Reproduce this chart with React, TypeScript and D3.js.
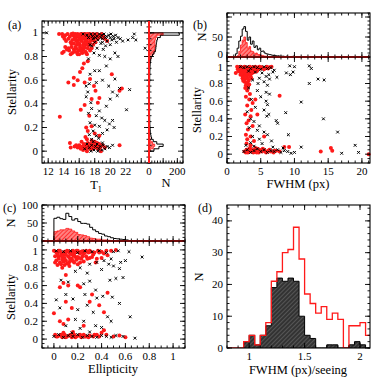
import * as d3 from "d3";

const FONT = "'Liberation Serif', 'DejaVu Serif', serif";
const RED = "#ff1a1a";

// ---------- panel (a): T1 vs stellarity ----------
const aRed: [number, number][] = [
  [13.4, 0.99], [13.8, 0.99], [14.2, 0.98], [14.5, 0.99], [14.8, 0.97], [15.0, 0.99], [15.2, 0.98], [15.4, 0.96], [15.5, 0.99], [15.7, 0.97],
  [15.8, 0.99], [16.0, 0.98], [16.1, 0.96], [16.2, 0.99], [16.4, 0.97], [16.5, 0.99], [16.6, 0.95], [16.7, 0.98], [16.8, 0.99], [16.9, 0.96],
  [17.0, 0.98], [17.1, 0.99], [17.2, 0.97], [17.3, 0.95], [17.4, 0.99], [17.5, 0.97], [17.6, 0.98], [17.7, 0.96], [17.8, 0.99], [17.9, 0.97],
  [18.0, 0.98], [18.2, 0.96], [18.3, 0.99], [18.5, 0.97], [18.7, 0.98], [19.0, 0.96], [19.3, 0.95], [19.6, 0.93],
  [15.1, 0.94], [15.6, 0.93], [15.9, 0.94], [16.3, 0.93], [16.8, 0.93], [17.1, 0.92], [17.5, 0.93], [14.9, 0.92], [15.3, 0.91], [15.7, 0.9],
  [16.0, 0.91], [16.5, 0.9], [16.9, 0.9], [17.3, 0.91], [17.8, 0.9], [18.1, 0.92], [14.2, 0.88], [14.6, 0.87], [15.0, 0.88], [15.3, 0.86],
  [15.6, 0.87], [15.9, 0.85], [16.2, 0.87], [16.5, 0.86], [16.8, 0.84], [17.1, 0.87], [17.4, 0.85], [14.0, 0.84], [15.1, 0.83], [15.8, 0.82],
  [16.4, 0.83], [17.0, 0.82], [13.8, 0.83], [14.7, 0.85], [16.1, 0.89], [16.6, 0.88],
  [15.2, 0.995], [15.9, 0.975], [16.3, 0.985], [16.7, 0.965], [17.2, 0.985], [17.7, 0.975], [18.1, 0.985], [16.0, 0.945], [16.4, 0.955], [17.0, 0.945],
  [17.6, 0.94], [15.5, 0.945], [14.6, 0.95], [14.3, 0.93], [15.0, 0.905], [15.5, 0.88], [16.1, 0.875], [16.7, 0.875], [17.2, 0.895], [17.6, 0.87],
  [16.3, 0.845], [15.4, 0.84], [14.9, 0.82], [16.9, 0.83], [15.7, 0.835], [16.0, 0.82], [14.4, 0.86], [16.6, 0.915], [15.8, 0.915], [17.9, 0.935],
  [18.4, 0.95], [13.9, 0.97], [14.1, 0.95], [18.9, 0.99], [19.1, 0.975],
  [17.1, 0.76], [16.6, 0.74], [16.1, 0.67], [15.3, 0.62], [14.6, 0.58], [15.3, 0.56], [16.7, 0.58], [17.4, 0.61], [18.1, 0.51], [17.6, 0.44],
  [18.6, 0.45], [18.4, 0.41], [21.5, 0.53], [21.2, 0.51], [20.2, 0.65], [16.7, 0.39], [13.5, 0.29], [16.9, 0.2], [17.1, 0.17], [17.6, 0.21],
  [18.6, 0.13], [16.4, 0.7], [15.8, 0.6], [17.9, 0.55], [16.2, 0.35], [17.3, 0.3], [16.8, 0.12], [18.0, 0.15],
  [14.8, 0.07], [14.9, 0.03], [15.4, 0.04], [15.8, 0.03], [16.0, 0.05], [16.2, 0.02], [16.4, 0.04], [16.6, 0.06], [16.7, 0.03], [16.9, 0.02],
  [17.0, 0.05], [17.1, 0.07], [17.2, 0.03], [17.3, 0.04], [17.4, 0.02], [17.5, 0.06], [17.6, 0.03], [17.7, 0.05], [17.8, 0.02], [17.9, 0.04],
  [18.0, 0.08], [18.1, 0.03], [18.2, 0.05], [18.4, 0.02], [18.5, 0.04], [18.7, 0.03], [19.0, 0.05], [19.3, 0.03], [21.2, 0.05], [16.3, 0.08],
  [17.0, 0.1], [17.6, 0.09], [18.3, 0.07], [18.8, 0.0], [16.5, 0.01], [17.0, 0.0], [17.45, 0.04], [17.85, 0.06], [16.8, 0.05], [17.3, 0.06],
  [18.6, 0.06], [15.6, 0.05], [16.1, 0.03],
];
const aBlack: [number, number][] = [
  [11.8, 1.0], [16.5, 0.99], [17.0, 0.98], [17.5, 0.99], [18.0, 0.99], [18.3, 0.97], [18.6, 0.99], [18.9, 0.98], [19.2, 0.99], [19.5, 0.97],
  [19.8, 0.98], [20.1, 0.99], [20.4, 0.97], [20.7, 0.98], [21.0, 0.96], [17.8, 0.95], [18.4, 0.94], [19.0, 0.95], [19.6, 0.93], [20.2, 0.94],
  [20.8, 0.92], [21.3, 0.95], [22.3, 0.94], [22.9, 0.96], [23.1, 0.99], [23.3, 0.94], [24.5, 0.87], [21.6, 0.93], [18.8, 0.91], [19.4, 0.89],
  [20.0, 0.9], [17.6, 0.89], [18.3, 0.87], [19.1, 0.86], [20.6, 0.83], [21.0, 0.8], [17.9, 0.83], [18.6, 0.81], [19.3, 0.8], [20.0, 0.78],
  [17.2, 0.96], [17.7, 0.97], [18.1, 0.96], [18.8, 0.96], [19.4, 0.96], [20.0, 0.96], [20.5, 0.95], [19.0, 0.92], [18.0, 0.92], [17.4, 0.9],
  [17.2, 0.78], [19.5, 0.72], [18.6, 0.68], [18.0, 0.68], [17.4, 0.65], [20.6, 0.61], [21.2, 0.53], [22.5, 0.52], [20.3, 0.5], [20.9, 0.47],
  [20.0, 0.44], [22.1, 0.35], [19.5, 0.38], [18.6, 0.34], [18.2, 0.3], [19.3, 0.26], [20.3, 0.26], [19.9, 0.23], [18.6, 0.21], [17.8, 0.17],
  [18.2, 0.13], [17.6, 0.1], [17.3, 0.57], [16.9, 0.55], [17.1, 0.5], [19.0, 0.6], [18.2, 0.58], [19.8, 0.55], [17.6, 0.36], [17.2, 0.32],
  [18.9, 0.28], [19.6, 0.18], [20.5, 0.2], [17.4, 0.24], [18.0, 0.22], [19.0, 0.15], [17.3, 0.14], [18.5, 0.11], [16.9, 0.46], [17.5, 0.41],
  [17.0, 0.06], [17.3, 0.03], [17.6, 0.05], [17.9, 0.01], [18.1, 0.04], [18.3, 0.06], [18.5, 0.02], [18.7, 0.04], [18.9, 0.01], [19.1, 0.05],
  [19.3, 0.02], [19.6, 0.04], [19.9, 0.03], [20.3, 0.05], [17.8, 0.08], [18.4, 0.0], [17.5, 0.0], [19.0, 0.07], [16.7, 0.02],
];
// side histogram of (a): stellarity bins of width 0.02 starting at 0
const aHistAll = [
  35, 70, 100, 55, 30, 18, 14, 10, 9, 8, 7, 6, 6, 5, 5, 4, 4, 5, 4, 4, 4, 3, 4, 4, 3,
  4, 4, 5, 4, 5, 5, 5, 6, 6, 7, 7, 8, 10, 12, 15, 25, 35, 45, 48, 50, 52, 55, 60, 80, 214,
];
const aHistRed = [
  10, 30, 40, 25, 12, 6, 4, 3, 3, 2, 2, 2, 1, 2, 1, 1, 2, 1, 1, 2, 1, 1, 1, 2, 1,
  1, 2, 1, 2, 1, 2, 2, 2, 2, 2, 3, 3, 5, 8, 15, 25, 35, 42, 40, 45, 42, 42, 45, 55, 100,
];

// ---------- panel (b): FWHM vs stellarity ----------
const bRed: [number, number][] = [
  [1.5, 0.99], [1.8, 0.97], [2.0, 0.99], [2.2, 0.96], [2.4, 0.98], [2.6, 0.99], [2.8, 0.97], [3.0, 0.98], [3.2, 0.96], [3.4, 0.99],
  [3.6, 0.97], [3.8, 0.98], [4.0, 0.96], [4.2, 0.99], [4.4, 0.97], [4.6, 0.98], [4.8, 0.99], [5.0, 0.97], [5.2, 0.98], [5.5, 0.96],
  [5.8, 0.98], [6.1, 0.97], [1.7, 0.94], [2.0, 0.93], [2.3, 0.94], [2.6, 0.92], [2.9, 0.94], [3.2, 0.93], [3.5, 0.92], [3.8, 0.94],
  [4.1, 0.93], [2.0, 0.9], [2.3, 0.89], [2.6, 0.91], [2.9, 0.88], [3.2, 0.9], [3.5, 0.88], [2.3, 0.86], [2.6, 0.85], [2.9, 0.87],
  [3.2, 0.84], [2.6, 0.82], [2.9, 0.8], [3.2, 0.83], [2.8, 0.78], [3.1, 0.76], [1.3, 0.92], [3.6, 0.86], [1.6, 0.96], [4.5, 0.95],
  [1.9, 0.985], [2.1, 0.975], [2.5, 0.965], [2.7, 0.985], [3.1, 0.975], [3.3, 0.985], [3.7, 0.965], [3.9, 0.985], [4.3, 0.965], [4.7, 0.97],
  [5.1, 0.985], [5.4, 0.975], [5.9, 0.99], [6.3, 0.985], [6.6, 0.99], [2.1, 0.945], [2.5, 0.935], [2.8, 0.95], [3.0, 0.92], [3.4, 0.945],
  [3.7, 0.915], [4.4, 0.94], [2.2, 0.91], [2.5, 0.875], [2.8, 0.9], [3.0, 0.86], [3.4, 0.9], [2.4, 0.83], [2.7, 0.87], [3.0, 0.81],
  [2.7, 0.75], [3.3, 0.79],
  [3.0, 0.72], [3.4, 0.68], [2.8, 0.65], [3.3, 0.62], [3.8, 0.58], [4.2, 0.62], [3.0, 0.55], [3.6, 0.5], [2.7, 0.45], [3.5, 0.43],
  [3.2, 0.38], [4.5, 0.45], [2.9, 0.35], [3.8, 0.32], [3.1, 0.28], [2.8, 0.22], [3.5, 0.2], [3.0, 0.17], [4.0, 0.15], [2.9, 0.12],
  [3.5, 0.1], [5.5, 0.2], [8.5, 0.08], [7.8, 0.66],
  [2.6, 0.03], [2.9, 0.05], [3.1, 0.02], [3.3, 0.06], [3.5, 0.03], [3.7, 0.04], [3.9, 0.02], [4.1, 0.05], [4.3, 0.03], [4.5, 0.06],
  [4.7, 0.02], [4.9, 0.04], [5.2, 0.03], [5.5, 0.05], [5.8, 0.02], [6.1, 0.04], [6.5, 0.03], [6.9, 0.02], [7.3, 0.04], [7.8, 0.03],
  [2.8, 0.02], [3.2, 0.04], [3.6, 0.05], [4.0, 0.03], [4.4, 0.02], [4.8, 0.05], [5.3, 0.06], [5.7, 0.03], [6.3, 0.05], [7.0, 0.04],
  [3.4, 0.07], [4.2, 0.07], [9.2, 0.08], [13.9, 0.03], [15.4, 0.07], [15.6, 0.04], [21.0, 0.0],
];
const bBlack: [number, number][] = [
  [2.0, 0.99], [2.5, 0.98], [3.0, 0.99], [3.5, 0.97], [4.0, 0.99], [4.5, 0.98], [5.0, 0.96], [5.5, 0.99], [6.0, 0.97], [6.5, 0.98],
  [7.0, 0.95], [3.2, 0.94], [4.2, 0.93], [5.2, 0.92], [6.2, 0.9], [6.8, 0.93], [5.8, 0.88], [4.8, 0.86], [6.3, 0.85], [7.4, 0.87],
  [5.5, 0.82], [4.6, 0.8], [6.0, 0.78], [3.8, 0.84], [9.3, 1.0], [10.0, 0.99], [9.8, 0.93], [9.4, 0.9], [8.8, 0.92], [12.2, 1.0],
  [12.5, 0.97], [13.5, 0.85], [14.4, 0.84], [12.2, 0.8],
  [3.2, 0.75], [4.5, 0.72], [5.8, 0.7], [6.3, 0.68], [5.0, 0.65], [3.6, 0.62], [5.8, 0.6], [6.0, 0.56], [4.2, 0.53], [3.0, 0.48],
  [5.5, 0.5], [6.2, 0.45], [5.9, 0.43], [3.5, 0.4], [4.0, 0.37], [7.3, 0.38], [7.5, 0.35], [8.7, 0.47], [11.0, 0.59], [14.3, 0.4],
  [4.8, 0.32], [3.3, 0.3], [4.5, 0.27], [5.5, 0.25], [6.0, 0.22], [3.8, 0.2], [4.8, 0.17], [3.5, 0.13], [5.2, 0.12], [6.6, 0.15],
  [9.1, 0.22], [16.4, 0.25], [2.8, 0.1], [4.0, 0.09],
  [2.5, 0.03], [3.0, 0.05], [3.5, 0.02], [4.0, 0.04], [4.5, 0.06], [5.0, 0.03], [5.5, 0.05], [6.0, 0.02], [6.5, 0.04], [7.0, 0.03],
  [7.5, 0.05], [8.0, 0.02], [8.5, 0.04], [9.0, 0.03], [9.5, 0.01], [10.0, 0.02], [11.0, 0.08], [17.0, 0.01], [19.0, 0.1], [19.5, 0.02],
  [8.3, 0.07], [6.8, 0.08],
];
// top histogram of (b): FWHM bins of width 0.25 starting at 1.0
const bHistAll = [
  0, 8, 22, 40, 52, 70, 76, 64, 42, 50, 32, 40, 24, 28, 18, 22, 14, 15, 10, 8,
  7, 6, 5, 4, 4, 3, 3, 2, 2, 2, 1, 2, 1, 1, 1, 2, 1, 0, 1, 0, 1, 0,
];
const bHistRed = [
  0, 0, 3, 14, 30, 42, 50, 36, 22, 26, 15, 13, 8, 10, 6, 6, 4, 3, 2, 2,
  1, 1, 1, 1, 1, 0,
];

// ---------- panel (c): ellipticity vs stellarity ----------
const cRed: [number, number][] = [
  [0.0, 0.99], [0.03, 0.97], [0.05, 0.99], [0.07, 0.96], [0.09, 0.98], [0.11, 0.99], [0.13, 0.97], [0.15, 0.98], [0.17, 0.96], [0.19, 0.99],
  [0.21, 0.97], [0.23, 0.98], [0.25, 0.96], [0.27, 0.99], [0.29, 0.97], [0.31, 0.98], [0.34, 0.97], [0.37, 0.99], [0.4, 0.98], [0.44, 0.99],
  [0.48, 0.99], [0.52, 1.0], [0.01, 0.93], [0.04, 0.92], [0.06, 0.94], [0.09, 0.91], [0.12, 0.93], [0.15, 0.9], [0.18, 0.92], [0.21, 0.91],
  [0.24, 0.93], [0.28, 0.9], [0.32, 0.92], [0.36, 0.9], [0.4, 0.91], [0.02, 0.88], [0.05, 0.86], [0.08, 0.87], [0.11, 0.85], [0.14, 0.88],
  [0.17, 0.86], [0.2, 0.84], [0.25, 0.87], [0.03, 0.83], [0.07, 0.8], [0.13, 0.82], [0.35, 0.86], [0.45, 0.94], [0.08, 0.95], [0.16, 0.94],
  [0.02, 0.975], [0.04, 0.99], [0.06, 0.965], [0.1, 0.975], [0.12, 0.985], [0.14, 0.955], [0.16, 0.99], [0.18, 0.975], [0.2, 0.99], [0.22, 0.96],
  [0.24, 0.985], [0.26, 0.97], [0.3, 0.99], [0.33, 0.95], [0.38, 0.97], [0.42, 0.96], [0.03, 0.945], [0.07, 0.925], [0.1, 0.945], [0.13, 0.91],
  [0.17, 0.935], [0.2, 0.92], [0.23, 0.9], [0.27, 0.93], [0.3, 0.91], [0.04, 0.9], [0.07, 0.89], [0.1, 0.88], [0.13, 0.865], [0.16, 0.875],
  [0.19, 0.89], [0.22, 0.86], [0.06, 0.84], [0.09, 0.83], [0.12, 0.845], [0.01, 0.86],
  [0.1, 0.72], [0.08, 0.63], [0.12, 0.6], [0.05, 0.58], [0.2, 0.6], [0.22, 0.58], [0.32, 0.5], [0.45, 0.52], [0.0, 0.29], [0.05, 0.2],
  [0.08, 0.17], [0.12, 0.22], [0.3, 0.42], [0.15, 0.35], [0.1, 0.42], [0.38, 0.38], [0.25, 0.15], [0.42, 0.3],
  [0.01, 0.05], [0.03, 0.03], [0.05, 0.04], [0.07, 0.02], [0.09, 0.05], [0.11, 0.03], [0.13, 0.04], [0.15, 0.02], [0.17, 0.05], [0.19, 0.03],
  [0.21, 0.04], [0.23, 0.02], [0.25, 0.05], [0.27, 0.03], [0.3, 0.04], [0.33, 0.03], [0.36, 0.05], [0.4, 0.07], [0.44, 0.05], [0.5, 0.03],
  [0.55, 0.04], [0.6, 0.02], [0.42, 0.1], [0.02, 0.03], [0.06, 0.05], [0.1, 0.02], [0.14, 0.05], [0.18, 0.02], [0.22, 0.05], [0.26, 0.03],
  [0.29, 0.02], [0.34, 0.05], [0.38, 0.03], [0.08, 0.07], [0.16, 0.08],
];
const cBlack: [number, number][] = [
  [0.02, 0.99], [0.08, 0.98], [0.14, 0.99], [0.2, 0.97], [0.26, 0.99], [0.32, 0.98], [0.38, 0.99], [0.44, 0.97], [0.5, 0.98], [0.54, 0.99],
  [0.63, 0.98], [0.74, 0.92], [0.6, 0.88], [0.56, 0.86], [0.48, 0.9], [0.42, 0.88], [0.36, 0.86], [0.3, 0.84], [0.46, 0.84], [0.5, 0.82],
  [0.55, 0.79], [0.22, 0.8], [0.18, 0.76], [0.28, 0.74], [0.4, 0.78], [0.47, 0.66], [0.52, 0.68], [0.58, 0.69], [0.06, 0.66], [0.12, 0.64],
  [0.25, 0.62], [0.3, 0.65], [0.35, 0.55], [0.26, 0.5], [0.36, 0.46], [0.41, 0.48], [0.49, 0.47], [0.55, 0.4], [0.28, 0.38], [0.02, 0.44],
  [0.1, 0.5], [0.16, 0.45], [0.05, 0.35], [0.2, 0.33], [0.33, 0.3], [0.45, 0.25], [0.48, 0.2], [0.64, 0.25], [0.18, 0.22], [0.25, 0.2],
  [0.1, 0.15], [0.22, 0.12], [0.35, 0.15], [0.4, 0.13],
  [0.0, 0.03], [0.04, 0.05], [0.08, 0.02], [0.12, 0.04], [0.16, 0.03], [0.2, 0.05], [0.24, 0.02], [0.28, 0.04], [0.32, 0.03], [0.36, 0.02],
  [0.4, 0.04], [0.44, 0.03], [0.48, 0.02], [0.52, 0.04], [0.58, 0.03], [0.68, 0.01], [0.3, 0.08], [0.15, 0.07],
];
// top histogram of (c): ellipticity bins of width 0.025 starting at 0
const cHistAll = [
  63, 66, 62, 60, 77, 68, 58, 62, 54, 49, 49, 47, 38, 31, 26, 21, 19, 14, 12, 9,
  7, 6, 5, 4, 3, 1, 1,
];
const cHistRed = [
  26, 28, 31, 31, 35, 33, 28, 24, 18, 17, 15, 12, 8, 7, 5, 5, 3, 3, 2, 1, 1, 1,
];

// ---------- panel (d): FWHM/seeing, bins of width 0.05 starting at 0.95 ----------
const dBlack = [2, 4, 1, 4, 7, 19, 22, 21, 22, 21, 10, 4, 3, 0, 0, 1, 1, 0, 0, 1, 2, 1, 0];
const dRed = [2, 4, 1, 4, 8, 21, 24, 30, 31, 38, 28, 17, 14, 11, 13, 9, 11, 9, 0, 7, 7, 8, 4];

// ---------- ticks ----------
const stelTicks = [0, 0.2, 0.4, 0.6, 0.8, 1];
const t1Ticks = [12, 14, 16, 18, 20, 22, 24];
const t1Labels = ["12", "14", "16", "18", "20", "22", ""];
const nSideTicks = [0, 100, 200];
const nSideLabels = ["0", "", "200"];
const fwhmTicks = [0, 5, 10, 15, 20];
const bNTicks = [0, 50, 100];
const bNLabels = ["0", "50", ""];
const cNTicks = [0, 50, 100];
const ellTicks = [0, 0.2, 0.4, 0.6, 0.8, 1];
const ratioTicks = [1, 1.5, 2];
const dNTicks = [0, 10, 20, 30, 40];

type Sc = d3.ScaleLinear<number, number>;
const TICK_FS = 11;

function fmt(v: number) {
  return String(+v.toFixed(2));
}

function minorRange(s: Sc, step: number) {
  const [a, b] = s.domain();
  const lo = Math.ceil(Math.min(a, b) / step - 1e-6) * step;
  return d3.range(lo, Math.max(a, b) + 1e-9, step);
}

function Frame({ x, y, xMajor, xMinor, yMajor, yMinor, xLabels, yLabels, yNudge }: {
  x: Sc; y: Sc; xMajor: number[]; xMinor: number; yMajor: number[]; yMinor: number;
  xLabels?: string[] | null; yLabels?: string[] | null; yNudge?: number[];
}) {
  const [l, r] = x.range();
  const [b, t] = y.range();
  const M = 5, m = 2.5;
  const lines: JSX.Element[] = [];
  const inX = (p: number) => p >= l - 0.2 && p <= r + 0.2;
  const inY = (p: number) => p >= t - 0.2 && p <= b + 0.2;
  minorRange(x, xMinor).forEach((v, i) => {
    const p = x(v);
    if (!inX(p)) return;
    lines.push(<line key={"xm" + i} x1={p} x2={p} y1={b} y2={b - m} />, <line key={"xmt" + i} x1={p} x2={p} y1={t} y2={t + m} />);
  });
  xMajor.forEach((v, i) => {
    const p = x(v);
    if (!inX(p)) return;
    lines.push(<line key={"xM" + i} x1={p} x2={p} y1={b} y2={b - M} />, <line key={"xMt" + i} x1={p} x2={p} y1={t} y2={t + M} />);
  });
  minorRange(y, yMinor).forEach((v, i) => {
    const p = y(v);
    if (!inY(p)) return;
    lines.push(<line key={"ym" + i} x1={l} x2={l + m} y1={p} y2={p} />, <line key={"ymr" + i} x1={r} x2={r - m} y1={p} y2={p} />);
  });
  yMajor.forEach((v, i) => {
    const p = y(v);
    if (!inY(p)) return;
    lines.push(<line key={"yM" + i} x1={l} x2={l + M} y1={p} y2={p} />, <line key={"yMr" + i} x1={r} x2={r - M} y1={p} y2={p} />);
  });
  return (
    <g>
      <g stroke="#000" strokeWidth={0.9}>{lines}</g>
      <rect x={l} y={t} width={r - l} height={b - t} fill="none" stroke="#000" strokeWidth={1.1} />
      {xLabels !== null && xMajor.map((v, i) => (
        <text key={"xl" + i} x={x(v)} y={b + 12} textAnchor="middle" fontSize={TICK_FS} fontFamily={FONT}>
          {xLabels ? xLabels[i] : fmt(v)}
        </text>
      ))}
      {yLabels !== null && yMajor.map((v, i) => (
        <text key={"yl" + i} x={l - 4} y={y(v) + 3.5 + (yNudge ? yNudge[i] : 0)} textAnchor="end" fontSize={TICK_FS} fontFamily={FONT}>
          {yLabels ? yLabels[i] : fmt(v)}
        </text>
      ))}
    </g>
  );
}

function stepPts(start: number, width: number, counts: number[], pre?: number): [number, number][] {
  const pts: [number, number][] = [];
  if (pre !== undefined) pts.push([pre, 0]);
  pts.push([start, 0]);
  counts.forEach((c, i) => {
    pts.push([start + i * width, c]);
    pts.push([start + (i + 1) * width, c]);
  });
  pts.push([start + counts.length * width, 0]);
  return pts;
}

const crossPath = "M-1.4,-1.4L1.4,1.4M-1.4,1.4L1.4,-1.4";

function Scatter({ x, y, red, black }: { x: Sc; y: Sc; red: [number, number][]; black: [number, number][] }) {
  return (
    <g>
      {red.map((d, i) => (
        <circle key={"r" + i} cx={x(d[0])} cy={y(d[1])} r={2} fill={RED} />
      ))}
      {black.map((d, i) => (
        <path key={"k" + i} d={crossPath} transform={`translate(${x(d[0])},${y(d[1])})`} stroke="#000" strokeWidth={1} fill="none" />
      ))}
    </g>
  );
}

function Label({ x, y, text, rotate, size = 12.5 }: { x: number; y: number; text: React.ReactNode; rotate?: boolean; size?: number }) {
  return (
    <text x={x} y={y} textAnchor="middle" fontSize={size} fontFamily={FONT}
      transform={rotate ? `rotate(-90,${x},${y})` : undefined} dominantBaseline="middle">
      {text}
    </text>
  );
}

// top-of-scatter "1" label pushed down, hist "0" label pushed up, so they don't collide
const scatterNudge = [0, 0, 0, 0, 0, 1.5];
const histNudge = [-3, 0, 0];

export default function App() {
  // panel (a)
  const ax = d3.scaleLinear().domain([11.2, 25]).range([42, 149]);
  const ay = d3.scaleLinear().domain([-0.1, 1.1]).range([163, 21]);
  const ahx = d3.scaleLinear().domain([0, 240]).range([149, 183]);
  // panel (b)
  const bx = d3.scaleLinear().domain([0, 21.2]).range([227, 370]);
  const by = d3.scaleLinear().domain([-0.1, 1.1]).range([163, 57]);
  const bhy = d3.scaleLinear().domain([0, 110]).range([57, 13]);
  // panel (c)
  const cx = d3.scaleLinear().domain([-0.1, 1.1]).range([42, 185]);
  const cy = d3.scaleLinear().domain([-0.1, 1.1]).range([348, 241]);
  const chy = d3.scaleLinear().domain([0, 100]).range([241, 205]);
  // panel (d)
  const dx = d3.scaleLinear().domain([0.8, 2.09]).range([227, 370]);
  const dy = d3.scaleLinear().domain([0, 45]).range([348, 205]);

  const sideLine = d3.line<[number, number]>().x((p) => ahx(p[1])).y((p) => ay(p[0]));
  const bLine = d3.line<[number, number]>().x((p) => bx(p[0])).y((p) => bhy(p[1]));
  const cLine = d3.line<[number, number]>().x((p) => cx(p[0])).y((p) => chy(p[1]));
  const dLine = d3.line<[number, number]>().x((p) => dx(p[0])).y((p) => dy(p[1]));

  return (
    <svg width={390} height={390} viewBox="0 0 390 390"
      style={{ position: "absolute", left: 0, top: 0, background: "#fff" }}>
      <defs>
        <pattern id="hatchRed" patternUnits="userSpaceOnUse" width={3} height={3} patternTransform="rotate(45)">
          <rect width={3} height={3} fill="#ff8080" />
          <line x1={0} y1={0} x2={0} y2={3} stroke={RED} strokeWidth={1.6} />
        </pattern>
        <pattern id="hatchBlack" patternUnits="userSpaceOnUse" width={3} height={3} patternTransform="rotate(45)">
          <rect width={3} height={3} fill="#333" />
          <line x1={0} y1={0} x2={0} y2={3} stroke="#8a8a8a" strokeWidth={0.8} />
        </pattern>
        <clipPath id="clipAH"><rect x={149} y={21} width={34} height={142} /></clipPath>
        <clipPath id="clipBH"><rect x={227} y={13} width={143} height={44} /></clipPath>
        <clipPath id="clipCH"><rect x={42} y={205} width={143} height={36} /></clipPath>
        <clipPath id="clipD"><rect x={227} y={205} width={143} height={143} /></clipPath>
      </defs>

      {/* ---- (a) ---- */}
      <Scatter x={ax} y={ay} red={aRed} black={aBlack} />
      <Frame x={ax} y={ay} xMajor={t1Ticks} xMinor={0.5} yMajor={stelTicks} yMinor={0.05} xLabels={t1Labels} />
      <g clipPath="url(#clipAH)">
        <path d={sideLine(stepPts(0, 0.02, aHistRed)) ?? ""} fill="url(#hatchRed)" stroke={RED} strokeWidth={0.8} />
        <path d={sideLine(stepPts(0, 0.02, aHistAll)) ?? ""} fill="none" stroke="#000" strokeWidth={1} />
      </g>
      <Frame x={ahx} y={ay} xMajor={nSideTicks} xMinor={20} yMajor={stelTicks} yMinor={0.05} xLabels={nSideLabels} yLabels={null} />
      <line x1={ahx(0)} x2={ahx(0)} y1={21} y2={163} stroke={RED} strokeWidth={2} />
      <text x={8} y={29} fontSize={12} fontFamily={FONT}>(a)</text>
      <Label x={13} y={92} text="Stellarity" rotate />
      <text x={96} y={189} textAnchor="middle" fontSize={12.5} fontFamily={FONT}>
        T<tspan fontSize={8} dy={3}>1</tspan>
      </text>
      <Label x={166} y={184} text="N" />

      {/* ---- (b) ---- */}
      <g clipPath="url(#clipBH)">
        <path d={bLine(stepPts(1.0, 0.25, bHistRed)) ?? ""} fill="url(#hatchRed)" stroke={RED} strokeWidth={0.8} />
        <path d={bLine(stepPts(1.0, 0.25, bHistAll)) ?? ""} fill="none" stroke="#000" strokeWidth={1} />
      </g>
      <Frame x={bx} y={bhy} xMajor={fwhmTicks} xMinor={1} yMajor={bNTicks} yMinor={10} xLabels={null} yLabels={bNLabels} yNudge={histNudge} />
      <line x1={227} x2={370} y1={bhy(0)} y2={bhy(0)} stroke={RED} strokeWidth={2} />
      <Scatter x={bx} y={by} red={bRed} black={bBlack} />
      <Frame x={bx} y={by} xMajor={fwhmTicks} xMinor={1} yMajor={stelTicks} yMinor={0.05} yNudge={scatterNudge} />
      <text x={193} y={29} fontSize={12} fontFamily={FONT}>(b)</text>
      <Label x={203} y={37} text="N" rotate />
      <Label x={198} y={110} text="Stellarity" rotate />
      <Label x={298} y={185} text="FWHM (px)" />

      {/* ---- (c) ---- */}
      <g clipPath="url(#clipCH)">
        <path d={cLine(stepPts(0, 0.025, cHistRed)) ?? ""} fill="url(#hatchRed)" stroke={RED} strokeWidth={0.8} />
        <path d={cLine(stepPts(0, 0.025, cHistAll)) ?? ""} fill="none" stroke="#000" strokeWidth={1} />
      </g>
      <Frame x={cx} y={chy} xMajor={ellTicks} xMinor={0.05} yMajor={cNTicks} yMinor={10} xLabels={null} yNudge={histNudge} />
      <line x1={42} x2={185} y1={chy(0)} y2={chy(0)} stroke={RED} strokeWidth={2} />
      <Scatter x={cx} y={cy} red={cRed} black={cBlack} />
      <Frame x={cx} y={cy} xMajor={ellTicks} xMinor={0.05} yMajor={stelTicks} yMinor={0.05} yNudge={scatterNudge} />
      <text x={3} y={212} fontSize={12} fontFamily={FONT}>(c)</text>
      <Label x={12} y={223} text="N" rotate />
      <Label x={12} y={297} text="Stellarity" rotate />
      <Label x={113} y={370} text="Ellipticity" />

      {/* ---- (d) ---- */}
      <g clipPath="url(#clipD)">
        <path d={dLine(stepPts(0.95, 0.05, dBlack)) ?? ""} fill="url(#hatchBlack)" stroke="#000" strokeWidth={1} />
        <path d={dLine(stepPts(0.95, 0.05, dRed, 0.8)) ?? ""} fill="none" stroke={RED} strokeWidth={1.3} />
      </g>
      <Frame x={dx} y={dy} xMajor={ratioTicks} xMinor={0.1} yMajor={dNTicks} yMinor={2} />
      <text x={198} y={212} fontSize={12} fontFamily={FONT}>(d)</text>
      <Label x={200} y={277} text="N" rotate />
      <Label x={298} y={371} text="FWHM (px)/seeing" />
    </svg>
  );
}
